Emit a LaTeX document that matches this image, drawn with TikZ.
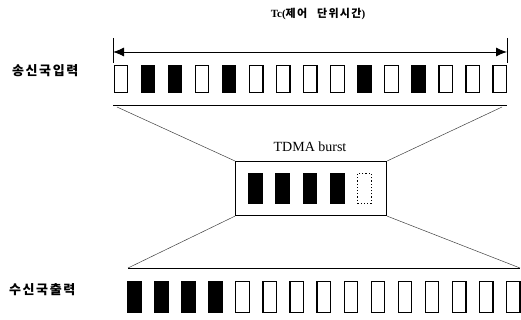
\documentclass[tikz,border=0pt]{standalone}
\usepackage{fontspec}
\setmainfont{Liberation Serif}
\newfontfamily\kr{Noto Sans CJK KR}
\newfontfamily\krsp[LetterSpace=12]{Noto Sans CJK KR}
\usetikzlibrary{arrows.meta}
\begin{document}
\begin{tikzpicture}[x=1pt,y=-1pt,
  slot/.style={draw=black,line width=1.2pt,minimum width=13.5pt,minimum height=#1,inner sep=0pt,anchor=north west},
  full/.style={fill=black},
  empty/.style={fill=white},
  thinline/.style={draw=black!75,line width=0.5pt},
  rule/.style={draw=black,line width=1pt},
  lbl/.style={font=\krsp\bfseries\fontsize{13}{15}\selectfont,anchor=west,inner sep=0pt}]
\useasboundingbox (0,0) rectangle (521,320);
% title
\node[inner sep=0pt,font=\bfseries\fontsize{11}{13}\selectfont] (title) at (318,14) {Tc({\krsp 제어\hspace{6pt} 단위시간})};
% ticks and arrow
\coordinate (tlA) at (113,38); \coordinate (tlB) at (113,63);
\coordinate (trA) at (507,38); \coordinate (trB) at (507,63);
\draw[line width=1pt] (tlA) -- (tlB);
\draw[line width=1pt] (trA) -- (trB);
\coordinate (aL) at (113,52); \coordinate (aR) at (507,52);
\draw[line width=0.9pt,{Latex[length=11pt,width=9pt]}-{Latex[length=11pt,width=9pt]}] (aL) -- (aR);
% labels
\node[lbl] (lin) at (12,71) {송신국입력};
\node[lbl] (lout) at (9,290) {수신국출력};
% top slots
\foreach \k/\s in {1/empty,2/full,3/full,4/empty,5/full,6/empty,7/empty,8/empty,9/empty,10/full,11/empty,12/full,13/empty,14/empty,15/empty}{
  \node[slot=27pt,\s] (t\k) at ({113.5+27.07*(\k-1)},65) {};
}
% top rule
\coordinate (r1L) at (113,106); \coordinate (r1R) at (507,106);
\draw[rule] (r1L) -- (r1R);
% TDMA burst box
\node[draw=black,line width=1.1pt,minimum width=151pt,minimum height=54pt,inner sep=0pt,anchor=north west] (burst) at (235,161) {};
\node[inner sep=0pt,font=\fontsize{14}{16}\selectfont] (btitle) at (310,147) {TDMA burst};
\foreach \k in {1,2,3,4}{
  \node[slot=30pt,full] (b\k) at ({248+27.3*(\k-1)},173) {};
}
\node[slot=30pt,empty,dotted,line width=0.8pt] (b5) at ({248+27.3*4},173) {};
% upper funnel
\coordinate (f1L) at (117,107); \coordinate (f1R) at (502,107);
\draw[thinline] (f1L) -- (burst.north west);
\draw[thinline] (f1R) -- (burst.north east);
% lower funnel
\coordinate (r2L) at (128,268); \coordinate (r2R) at (520,268);
\draw[thinline] (burst.south west) -- (r2L);
\draw[thinline] (burst.south east) -- (r2R);
\draw[rule] (r2L) -- (r2R);
% bottom slots
\foreach \k in {1,...,15}{
  \ifnum\k<5
    \node[slot=31pt,full] (o\k) at ({127+27.07*(\k-1)},281) {};
  \else
    \node[slot=31pt,empty] (o\k) at ({127+27.07*(\k-1)},281) {};
  \fi
}
\end{tikzpicture}
\end{document}
